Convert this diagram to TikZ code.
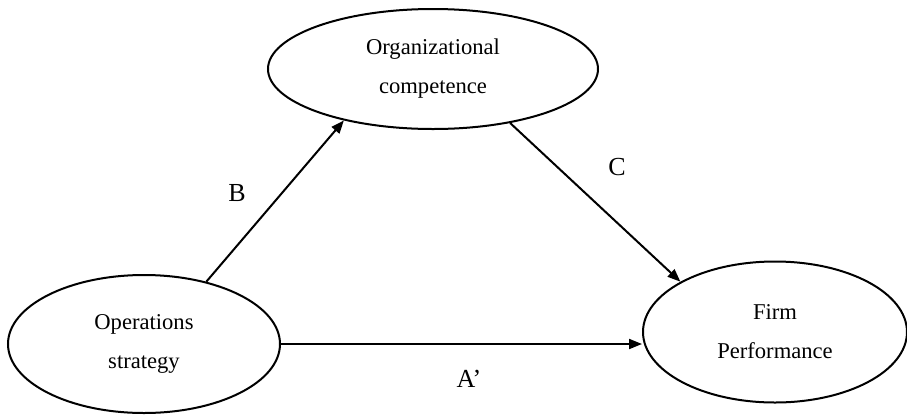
\documentclass[tikz,border=0pt]{standalone}
\usepackage{fontspec}
\setmainfont{Liberation Serif}
\usetikzlibrary{arrows.meta, shapes.geometric}

\begin{document}
\begin{tikzpicture}[x=0.5pt, y=-0.5pt, >={Triangle[length=6.5pt, width=5pt]}]
\useasboundingbox (0,0) rectangle (907,414);
\begin{scope}[every node/.style={ellipse, draw, line width=1pt, inner sep=0pt, align=center, font=\fontsize{11.3}{19.5}\selectfont}]
  \node[minimum width=165pt, minimum height=60pt] (org) at (433,69) {Organizational\\competence};
  \node[minimum width=136pt, minimum height=69pt] (ops) at (144,344) {Operations\\strategy};
  \node[minimum width=132pt, minimum height=70.5pt] (perf) at (775,332) {Firm\\Performance};
\end{scope}
\begin{scope}[every node/.style={font=\fontsize{13}{15}\selectfont}]
  \node (lb) at (237,193) {B};
  \node (lc) at (617,167) {C};
  \node (la) at (469,379) {A’};
\end{scope}
\draw[line width=1pt, ->] (ops.45) -- (org.210);
\draw[line width=1pt, ->] (org.325) -- (perf.152);
\draw[line width=1pt, ->] (ops.east) -- (ops.east -| perf.west);
\end{tikzpicture}
\end{document}
